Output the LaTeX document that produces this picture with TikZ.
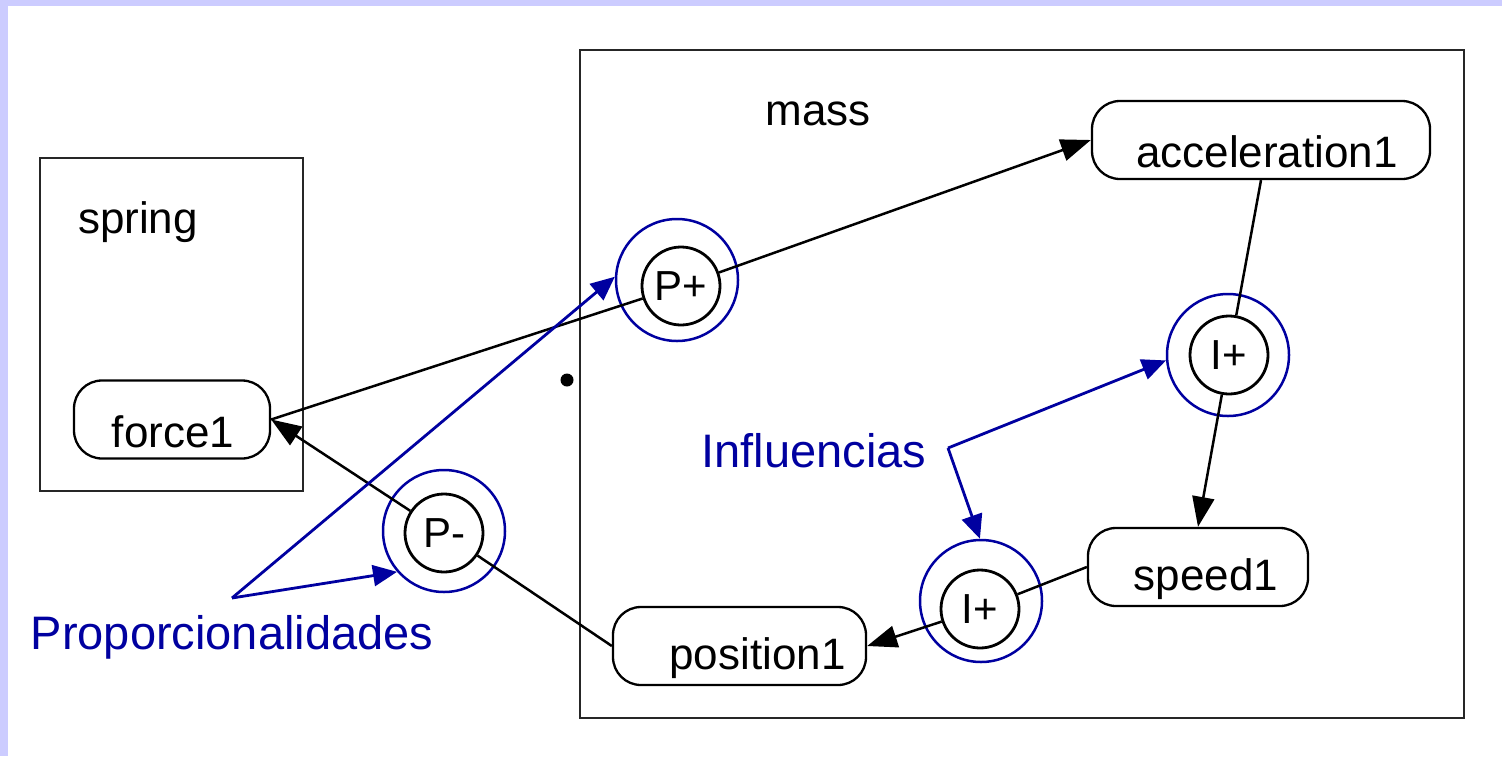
\documentclass[tikz,border=0pt]{standalone}
\usepackage{fontspec}
\setmainfont{Liberation Sans}
\usetikzlibrary{arrows.meta,calc}
\definecolor{lav}{HTML}{CCCCFF}
\definecolor{navy}{HTML}{0000A0}
\newcommand{\offtext}[3]{\raisebox{-#2}[\height][\depth]{\makebox[0pt]{\hspace*{#1}\hspace*{#1}#3}}}
\begin{document}
\begin{tikzpicture}[x=1pt,y=-1pt,
  frame/.style={draw=black!85,line width=2.8pt,inner sep=0pt},
  rbox/.style={draw,line width=2.3pt,rounded corners=28pt,inner sep=0pt,minimum height=78pt,font=\fontsize{44}{50}\selectfont},
  qc/.style={draw,circle,line width=2.8pt,minimum size=78pt,inner sep=0pt,font=\fontsize{42}{48}\selectfont},
  ring/.style={draw=navy,circle,line width=2.5pt,minimum size=122pt,inner sep=0pt},
  conn/.style={line width=2.5pt},
  arr/.style={conn,-{Triangle[length=30pt,width=22pt]}},
  ann/.style={draw=navy,line width=2.8pt,-{Triangle[length=24pt,width=21pt]}},
  atext/.style={text=navy,font=\fontsize{47}{55}\selectfont,inner sep=0pt},
  ttl/.style={font=\fontsize{44}{50}\selectfont,inner sep=0pt},
  dotnode/.style={circle,fill=black,minimum size=13pt,inner sep=0pt}
]
\fill[lav] (0,0) rectangle (1502,756);
\fill[white] (8,6) rectangle (1502,756);
\useasboundingbox (0,0) rectangle (1502,756);

% containers
\node[frame,minimum width=263pt,minimum height=333pt] (springbox) at (171.5,324.5) {};
\node[frame,minimum width=884pt,minimum height=668pt] (massbox) at (1022,384) {};
\node[ttl] (springt) at (138,222) {spring};
\node[ttl] (masst) at (818,114) {mass};

% quantities
\node[rbox,minimum width=196pt] (force1) at (172,419.5) {\offtext{1pt}{12pt}{force1}};
\node[rbox,minimum width=338pt] (acc) at (1261,140) {\offtext{6pt}{12pt}{acceleration1}};
\node[rbox,minimum width=220pt] (speed) at (1198,567) {\offtext{8pt}{12pt}{speed1}};
\node[rbox,minimum width=253pt] (pos) at (739.5,646) {\offtext{18pt}{12pt}{position1}};

% dependency circles
\node[ring] (ppr) at (677,280) {};
\node[qc] (pp) at (681,286) {P+};
\node[ring] (pmr) at (444,531) {};
\node[qc] (pm) at (444,533) {P-};
\node[ring] (iur) at (1228,355) {};
\node[qc] (iu) at (1229,355) {I+};
\node[ring] (ilr) at (981,601) {};
\node[qc] (il) at (980,609) {I+};

\node[dotnode] (dot) at (567,380) {};

% connectors
\draw[conn] (force1.east) -- (pp);
\draw[arr] (pp) -- (acc.west);
\draw[conn] (pos.west) -- (pm);
\draw[arr] (pm) -- (force1.east);
\draw[conn] (acc.south) -- (iu);
\draw[arr] (iu) -- (speed.north);
\draw[conn] (speed.west) -- (il);
\draw[arr] (il) -- (pos.east);

% annotations
\node[atext] (prop) at (232,637) {Proporcionalidades};
\coordinate (pa) at (232,598);
\draw[ann] (pa) -- (ppr.177);
\draw[ann] (pa) -- (pmr.221);
\node[atext] (infl) at (814,451) {Influencias};
\coordinate (ia) at (948,448);
\draw[ann] (ia) -- (iur.185);
\draw[ann] (ia) -- (ilr.91);
\end{tikzpicture}
\end{document}
